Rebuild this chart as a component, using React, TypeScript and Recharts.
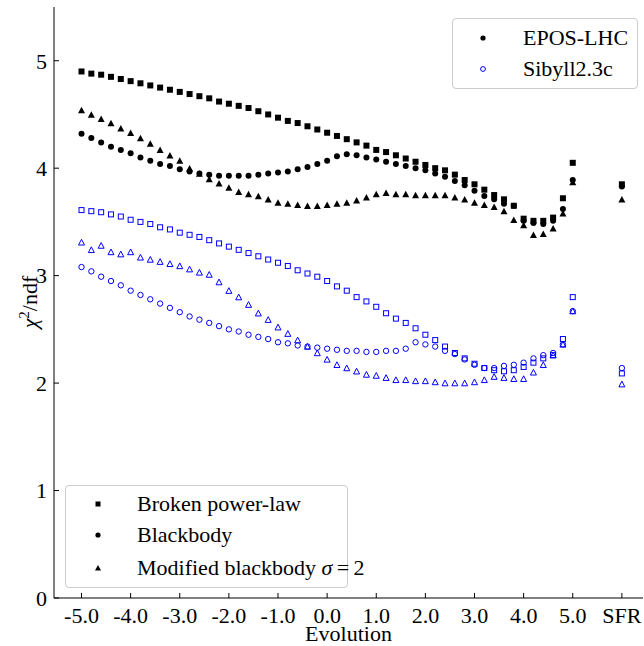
import React from 'react';
import { ScatterChart, Scatter, XAxis, YAxis, Label } from 'recharts';

const FONT = "'Liberation Serif', 'Times New Roman', serif";

// Evolution parameter values (x categories) plus the SFR case
const evolution = [
  -5.0, -4.8, -4.6, -4.4, -4.2, -4.0, -3.8, -3.6, -3.4, -3.2,
  -3.0, -2.8, -2.6, -2.4, -2.2, -2.0, -1.8, -1.6, -1.4, -1.2,
  -1.0, -0.8, -0.6, -0.4, -0.2, 0.0, 0.2, 0.4, 0.6, 0.8,
  1.0, 1.2, 1.4, 1.6, 1.8, 2.0, 2.2, 2.4, 2.6, 2.8,
  3.0, 3.2, 3.4, 3.6, 3.8, 4.0, 4.2, 4.4, 4.6, 4.8, 5.0,
];
const sfrPosition = 6;
const xPositions = [...evolution, sfrPosition];

const xTicks = [-5, -4, -3, -2, -1, 0, 1, 2, 3, 4, 5, 6];
const xTickLabels = ['-5.0', '-4.0', '-3.0', '-2.0', '-1.0', '0.0', '1.0', '2.0', '3.0', '4.0', '5.0', 'SFR'];
const yTicks = [0, 1, 2, 3, 4, 5];

// chi2/ndf values, last entry = SFR
const eposBPL = [
  4.90, 4.88, 4.87, 4.85, 4.83, 4.81, 4.79, 4.77, 4.75, 4.73,
  4.71, 4.69, 4.67, 4.65, 4.62, 4.60, 4.58, 4.56, 4.53, 4.50,
  4.47, 4.44, 4.42, 4.39, 4.36, 4.33, 4.30, 4.27, 4.24, 4.21,
  4.17, 4.15, 4.12, 4.09, 4.06, 4.03, 4.00, 3.98, 3.94, 3.89,
  3.85, 3.80, 3.75, 3.71, 3.65, 3.53, 3.51, 3.51, 3.54, 3.72, 4.05,
  3.85,
];
const eposBB = [
  4.32, 4.28, 4.24, 4.20, 4.17, 4.14, 4.10, 4.07, 4.04, 4.02,
  3.99, 3.97, 3.95, 3.94, 3.93, 3.93, 3.93, 3.93, 3.94, 3.95,
  3.96, 3.97, 3.99, 4.01, 4.04, 4.07, 4.11, 4.13, 4.12, 4.10,
  4.08, 4.06, 4.04, 4.02, 4.00, 3.98, 3.95, 3.92, 3.88, 3.84,
  3.79, 3.74, 3.71, 3.67, 3.65, 3.51, 3.49, 3.48, 3.51, 3.62, 3.89,
  3.83,
];
const eposMBB = [
  4.54, 4.50, 4.46, 4.42, 4.37, 4.33, 4.28, 4.23, 4.17, 4.12,
  4.07, 4.00, 3.95, 3.90, 3.86, 3.82, 3.78, 3.76, 3.74, 3.71,
  3.68, 3.67, 3.66, 3.65, 3.65, 3.66, 3.67, 3.68, 3.70, 3.73,
  3.76, 3.77, 3.76, 3.76, 3.75, 3.75, 3.75, 3.75, 3.73, 3.71,
  3.68, 3.66, 3.64, 3.60, 3.52, 3.47, 3.38, 3.39, 3.44, 3.58, 3.87,
  3.71,
];
const sibyllBPL = [
  3.61, 3.60, 3.59, 3.57, 3.55, 3.52, 3.50, 3.48, 3.45, 3.43,
  3.40, 3.38, 3.36, 3.33, 3.30, 3.27, 3.24, 3.21, 3.18, 3.15,
  3.12, 3.09, 3.05, 3.02, 2.99, 2.95, 2.90, 2.86, 2.80, 2.76,
  2.71, 2.65, 2.60, 2.56, 2.51, 2.45, 2.40, 2.34, 2.28, 2.23,
  2.18, 2.14, 2.12, 2.11, 2.12, 2.15, 2.19, 2.23, 2.26, 2.41, 2.80,
  2.09,
];
const sibyllBB = [
  3.08, 3.04, 2.99, 2.95, 2.91, 2.86, 2.82, 2.78, 2.74, 2.70,
  2.66, 2.62, 2.59, 2.56, 2.53, 2.50, 2.48, 2.45, 2.43, 2.41,
  2.38, 2.37, 2.35, 2.34, 2.33, 2.32, 2.31, 2.30, 2.30, 2.29,
  2.29, 2.30, 2.30, 2.32, 2.38, 2.36, 2.34, 2.30, 2.27, 2.22,
  2.17, 2.14, 2.14, 2.16, 2.17, 2.19, 2.23, 2.26, 2.28, 2.36, 2.67,
  2.14,
];
const sibyllMBB = [
  3.31, 3.24, 3.28, 3.22, 3.20, 3.22, 3.17, 3.15, 3.13, 3.11,
  3.09, 3.06, 3.03, 3.01, 2.94, 2.86, 2.80, 2.73, 2.65, 2.59,
  2.52, 2.46, 2.40, 2.34, 2.28, 2.22, 2.17, 2.14, 2.11, 2.08,
  2.07, 2.05, 2.03, 2.03, 2.02, 2.02, 2.01, 2.00, 2.00, 2.00,
  2.01, 2.03, 2.06, 2.05, 2.04, 2.04, 2.10, 2.17, 2.26, 2.36, 2.67,
  1.99,
];

const toPoints = (vals: number[]) => vals.map((y, i) => ({ x: xPositions[i], y }));

const BLUE = '#0000ff';

const FilledSquare = (p: any) => <rect x={p.cx - 3} y={p.cy - 3} width={6} height={6} fill="#000" />;
const FilledCircle = (p: any) => <circle cx={p.cx} cy={p.cy} r={3} fill="#000" />;
const FilledTriangle = (p: any) => (
  <polygon points={`${p.cx},${p.cy - 3.3} ${p.cx - 3.5},${p.cy + 3.2} ${p.cx + 3.5},${p.cy + 3.2}`} fill="#000" />
);
const OpenSquare = (p: any) => (
  <rect x={p.cx - 2.5} y={p.cy - 2.5} width={5} height={5} fill="none" stroke={BLUE} strokeWidth={1} />
);
const OpenCircle = (p: any) => <circle cx={p.cx} cy={p.cy} r={2.7} fill="none" stroke={BLUE} strokeWidth={1} />;
const OpenTriangle = (p: any) => (
  <polygon points={`${p.cx},${p.cy - 3} ${p.cx - 3},${p.cy + 2.7} ${p.cx + 3},${p.cy + 2.7}`} fill="none" stroke={BLUE} strokeWidth={1} />
);

const legendBox: React.CSSProperties = {
  position: 'absolute',
  background: 'rgba(255,255,255,0.8)',
  border: '1px solid #cccccc',
  borderRadius: 4,
  boxSizing: 'border-box',
  fontFamily: FONT,
  fontSize: 22,
  color: '#000',
};

const LegendRow = ({ top, markerLeft, textLeft, marker, children }: any) => (
  <div style={{ position: 'absolute', top: top - 14, left: 0, height: 28, width: '100%' }}>
    <svg width={10} height={10} style={{ position: 'absolute', left: markerLeft - 5, top: 9 }}>
      {marker}
    </svg>
    <div style={{ position: 'absolute', left: textLeft, top: 0, lineHeight: '28px', whiteSpace: 'nowrap' }}>{children}</div>
  </div>
);

export default function App() {
  return (
    <div style={{ position: 'absolute', left: 0, top: 0, width: 644, height: 646, background: '#fff' }}>
      <ScatterChart width={644} height={646} margin={{ top: 7, right: 1, bottom: 0, left: 0 }}>
        <XAxis
          xAxisId="b"
          type="number"
          dataKey="x"
          orientation="bottom"
          domain={[-5.56, 6.43]}
          allowDataOverflow
          ticks={xTicks}
          interval={0}
          tickFormatter={(v: number) => xTickLabels[xTicks.indexOf(v)]}
          height={48}
          tickSize={-5}
          tickMargin={14}
          stroke="#000"
          tick={{ fontSize: 22, fill: '#000', fontFamily: FONT }}
        >
          <Label
            content={() => (
              <text x={348.5} y={641} textAnchor="middle" fontSize={22} fontFamily={FONT} fill="#000">
                Evolution
              </text>
            )}
          />
        </XAxis>
        <XAxis
          xAxisId="t"
          type="number"
          dataKey="x"
          orientation="top"
          domain={[-5.56, 6.43]}
          allowDataOverflow
          ticks={xTicks}
          interval={0}
          height={0}
          tickSize={-5}
          tick={false}
          stroke="#000"
        />
        <YAxis
          yAxisId="l"
          type="number"
          dataKey="y"
          domain={[0, 5.5]}
          allowDataOverflow
          ticks={yTicks}
          interval={0}
          width={54}
          tickSize={-5}
          tickMargin={12}
          stroke="#000"
          tick={{ fontSize: 22, fill: '#000', fontFamily: FONT }}
        >
          <Label
            content={() => (
              <text transform="translate(37,302) rotate(-90)" x={0} y={0} textAnchor="middle" fontSize={22} fontFamily={FONT} fill="#000">
                <tspan fontStyle="italic">χ</tspan>
                <tspan dy={-8} fontSize={15}>2</tspan>
                <tspan dy={8}>/ndf</tspan>
              </text>
            )}
          />
        </YAxis>
        <YAxis
          yAxisId="r"
          type="number"
          dataKey="y"
          orientation="right"
          domain={[0, 5.5]}
          allowDataOverflow
          ticks={yTicks}
          interval={0}
          width={0}
          tickSize={-5}
          tick={false}
          stroke="#000"
        />
        <Scatter xAxisId="b" yAxisId="l" data={toPoints(eposBPL)} shape={FilledSquare} isAnimationActive={false} />
        <Scatter xAxisId="b" yAxisId="l" data={toPoints(eposBB)} shape={FilledCircle} isAnimationActive={false} />
        <Scatter xAxisId="b" yAxisId="l" data={toPoints(eposMBB)} shape={FilledTriangle} isAnimationActive={false} />
        <Scatter xAxisId="b" yAxisId="l" data={toPoints(sibyllBPL)} shape={OpenSquare} isAnimationActive={false} />
        <Scatter xAxisId="b" yAxisId="l" data={toPoints(sibyllBB)} shape={OpenCircle} isAnimationActive={false} />
        <Scatter xAxisId="b" yAxisId="l" data={toPoints(sibyllMBB)} shape={OpenTriangle} isAnimationActive={false} />
      </ScatterChart>

      {/* Generator legend (upper right) */}
      <div style={{ ...legendBox, left: 452, top: 18, width: 186, height: 71 }}>
        <LegendRow top={19} markerLeft={30} textLeft={70} marker={<circle cx={5} cy={5} r={2.6} fill="#000" />}>
          EPOS-LHC
        </LegendRow>
        <LegendRow top={50} markerLeft={30} textLeft={70} marker={<circle cx={5} cy={5} r={2.4} fill="none" stroke={BLUE} strokeWidth={1} />}>
          Sibyll2.3c
        </LegendRow>
      </div>

      {/* Spectrum model legend (lower left) */}
      <div style={{ ...legendBox, left: 65, top: 485, width: 283, height: 103 }}>
        <LegendRow top={18} markerLeft={32} textLeft={71} marker={<rect x={2.5} y={2.5} width={5} height={5} fill="#000" />}>
          Broken power-law
        </LegendRow>
        <LegendRow top={49} markerLeft={32} textLeft={71} marker={<circle cx={5} cy={5} r={2.6} fill="#000" />}>
          Blackbody
        </LegendRow>
        <LegendRow top={82} markerLeft={32} textLeft={71} marker={<polygon points="5,2 2,7.6 8,7.6" fill="#000" />}>
          Modified blackbody <i>σ</i>{'\u2009=\u20092'}
        </LegendRow>
      </div>
    </div>
  );
}
